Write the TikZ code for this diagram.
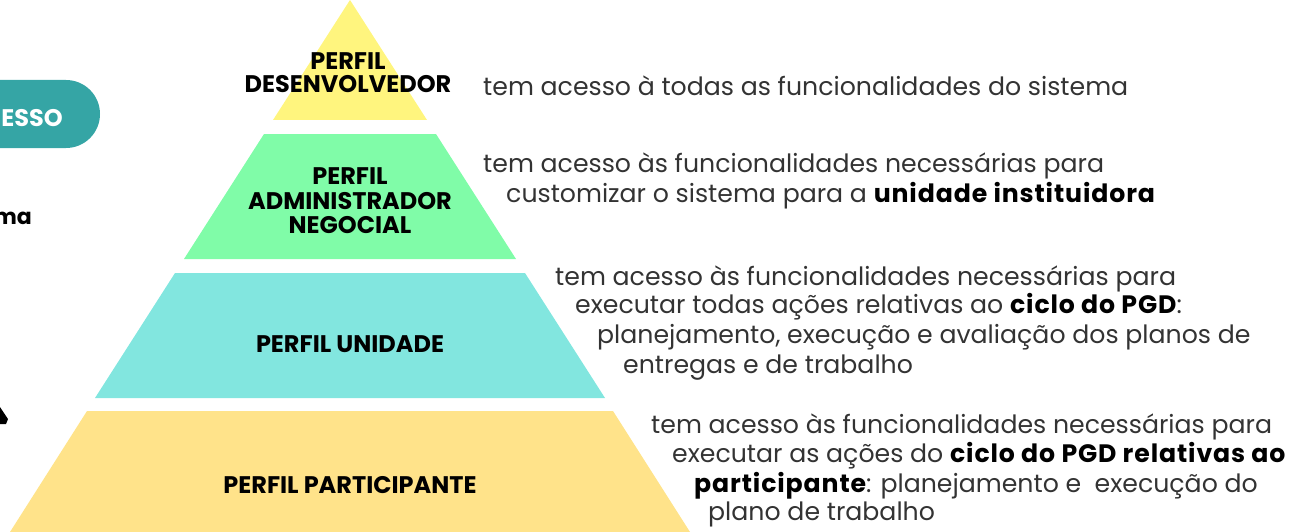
\documentclass[tikz,border=0pt]{standalone}
\usepackage{fontspec}
\setmainfont{Poppins}
\usetikzlibrary{calc}
\definecolor{topyellow}{HTML}{FFF57E}
\definecolor{negogreen}{HTML}{80FCA8}
\definecolor{unidteal}{HTML}{82E6DF}
\definecolor{partyellow}{HTML}{FFE38A}
\definecolor{pillteal}{HTML}{35A5A5}
\definecolor{txtgray}{HTML}{333333}
\newcommand{\labelfont}{\fontsize{24}{23}\selectfont\bfseries}
\newcommand{\descfont}{\fontsize{25.2}{30}\selectfont}
\newcommand{\strongtxt}[1]{\textcolor{black}{\bfseries\addfontfeature{LetterSpace=3.5}#1}}

\begin{document}
\begin{tikzpicture}[x=1pt,y=-1pt,
    perfil/.style={align=center, inner sep=0pt, font=\labelfont, text=black},
    desc/.style={anchor=base west, inner sep=0pt, font=\descfont, text=txtgray}]
  \useasboundingbox (0,0) rectangle (1292,532);

  % left side, cut off
  \fill[pillteal, rounded corners=34pt] (-60,80) rectangle (100,148);
  \node (esso) at (63,127) [anchor=base east, inner sep=0pt, font=\fontsize{24}{24}\selectfont\bfseries, text=white] {ESSO};
  \node (ma) at (32,224) [anchor=base east, inner sep=0pt, font=\fontsize{22}{24}\selectfont\bfseries] {ma};
  \fill[black] (0,407) -- (8,419) -- (6,424) -- (0,424) -- cycle;

  % pyramid
  \fill[topyellow] (350,0) -- (427,120) -- (273,120) -- cycle;
  \fill[negogreen] (264,134) -- (436,134) -- (516,259) -- (184,259) -- cycle;
  \fill[unidteal] (175,273) -- (525,273) -- (605,398) -- (95,398) -- cycle;
  \fill[partyellow] (87,411) -- (613,411) -- (690,532) -- (10,532) -- cycle;

  \node (desenv) at (348,73) [perfil] {PERFIL\\DESENVOLVEDOR};
  \node (admin) at (350,201) [perfil, font=\fontsize{24}{24.5}\selectfont\bfseries] {PERFIL\\ADMINISTRADOR\\NEGOCIAL};
  \node (unidade) at (350,344) [perfil] {PERFIL UNIDADE};
  \node (particip) at (350,485) [perfil] {PERFIL PARTICIPANTE};

  % descriptions
  \node (d1) at (483,96) [desc] {tem acesso à todas as funcionalidades do sistema};

  \node (d2a) at (483,172) [desc] {tem acesso às funcionalidades necessárias para};
  \node (d2b) at (506,202) [desc] {customizar o sistema para a \strongtxt{unidade instituidora}};

  \node (d3a) at (555,285) [desc] {tem acesso às funcionalidades necessárias para};
  \node (d3b) at (575,313) [desc] {executar todas ações relativas ao \strongtxt{ciclo do PGD}:};
  \node (d3c) at (597,343) [desc] {planejamento, execução e avaliação dos planos de};
  \node (d3d) at (623,373) [desc] {entregas e de trabalho};

  \node (d4a) at (651,433) [desc] {tem acesso às funcionalidades necessárias para};
  \node (d4b) at (672,462) [desc] {executar as ações do \strongtxt{ciclo do PGD relativas ao}};
  \node (d4c) at (694,492) [desc] {\strongtxt{participante}: planejamento e \ execução do};
  \node (d4d) at (708,520) [desc] {plano de trabalho};
\end{tikzpicture}
\end{document}
